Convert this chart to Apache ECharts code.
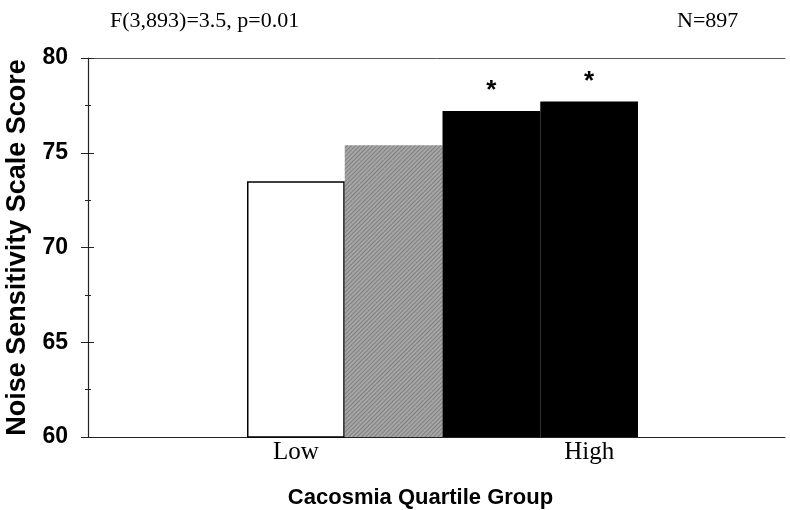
<!DOCTYPE html>
<html>
<head>
<meta charset="utf-8">
<script src="https://cdn.jsdelivr.net/npm/echarts@6/dist/echarts.min.js"></script>
<style>html,body{margin:0;padding:0;background:#fff}#c{width:790px;height:510px}</style>
</head>
<body>
<div id="c"></div>
<script>
const categories = ['Q1', 'Q2', 'Q3', 'Q4'];
const tickLabels = ['Low', '', '', 'High'];
const scores = [73.5, 75.4, 77.2, 77.7];
const significant = ['', '', '*', '*'];
const barColors = ['#ffffff', '#a6a6a6', '#000000', '#000000'];
const yTicks = [60, 65, 70, 75, 80];

const chart = echarts.init(document.getElementById('c'), null, {renderer: 'canvas'});
const barData = scores.map((v, i) => {
  const itemStyle = {
    color: barColors[i],
    borderColor: i === 0 ? '#000' : barColors[i],
    borderWidth: i === 0 ? 1.5 : 0
  };
  if (i === 1) {
    itemStyle.decal = {symbol: 'rect', symbolSize: 1, dashArrayX: [[1, 0]], dashArrayY: [1, 2], rotation: -Math.PI / 4, color: 'rgba(70,70,70,0.4)'};
  }
  return {value: v, itemStyle: itemStyle, label: {show: significant[i] !== '', formatter: significant[i]}};
});

const yMin = yTicks[0], yMax = yTicks[yTicks.length - 1];

chart.setOption({
  animation: false,
  backgroundColor: '#fff',
  grid: [
    {left: 88, right: 5, top: 58, bottom: 73, outerBoundsMode: 'none'},
    {left: 247, right: 152, top: 58, bottom: 73, outerBoundsMode: 'none'}
  ],
  xAxis: [
    {gridIndex: 0, type: 'value', min: 0, max: 1, axisLine: {show: true, onZero: false, lineStyle: {color: '#222', width: 1.2}}, axisTick: {show: false}, axisLabel: {show: false}, splitLine: {show: false},
     name: 'Cacosmia Quartile Group', nameLocation: 'middle', nameGap: 50,
     nameTextStyle: {fontFamily: 'Liberation Sans', fontWeight: 'bold', fontSize: 22, color: '#000', padding: [0, 32, 0, 0]}},
    {gridIndex: 0, type: 'value', position: 'top', min: 0, max: 1, axisLine: {show: true, onZero: false, lineStyle: {color: '#555', width: 1}}, axisTick: {show: false}, axisLabel: {show: false}, splitLine: {show: false}},
    {gridIndex: 1, type: 'category', data: categories, axisLine: {show: false}, axisTick: {show: false},
     axisLabel: {formatter: (v, i) => tickLabels[i], interval: 0, margin: 3, fontFamily: 'Liberation Serif', fontSize: 25, color: '#000'}}
  ],
  yAxis: [
    {gridIndex: 0, type: 'value', min: yMin, max: yMax, interval: 5,
     axisLine: {show: true, lineStyle: {color: '#222', width: 1.2}},
     axisTick: {show: true, length: 7, lineStyle: {color: '#222'}},
     minorTick: {show: true, splitNumber: 2, length: 3, lineStyle: {color: '#222'}},
     splitLine: {show: false},
     axisLabel: {margin: 20, fontFamily: 'Liberation Sans', fontWeight: 'bold', fontSize: 23, color: '#000'},
     name: 'Noise Sensitivity Scale Score', nameLocation: 'middle', nameGap: 52, nameRotate: 90,
     nameTextStyle: {fontFamily: 'Liberation Sans', fontWeight: 'bold', fontSize: 27, color: '#000'}},
    {gridIndex: 0, type: 'value', min: yMin, max: yMax, interval: 5, position: 'left',
     axisLine: {show: false}, axisLabel: {show: false}, splitLine: {show: false},
     axisTick: {show: true, inside: true, length: 6, lineStyle: {color: '#222'}},
     minorTick: {show: true, splitNumber: 2, length: 3, lineStyle: {color: '#222'}}},
    {gridIndex: 1, type: 'value', min: yMin, max: yMax, show: false}
  ],
  series: [{
    type: 'bar', xAxisIndex: 2, yAxisIndex: 2, data: barData,
    barWidth: '100%', barCategoryGap: 0,
    label: {position: 'top', distance: 7, fontFamily: 'Liberation Sans', fontWeight: 'bold', fontSize: 26, color: '#000'}
  }],
  graphic: [
    {type: 'text', left: 110, top: 10, style: {text: 'F(3,893)=3.5, p=0.01', font: '22px "Liberation Serif"', fill: '#000'}},
    {type: 'text', left: 677, top: 10, style: {text: 'N=897', font: '22px "Liberation Serif"', fill: '#000'}}
  ]
});
</script>
</body>
</html>
